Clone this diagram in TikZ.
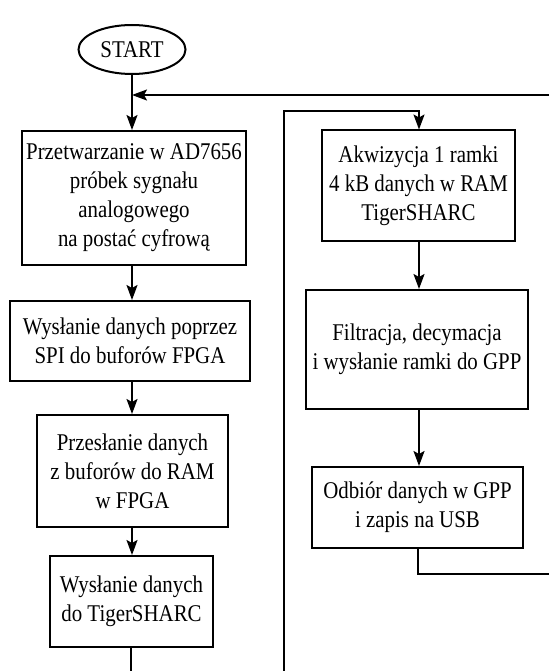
\documentclass[tikz,border=0pt]{standalone}
\usepackage{fontspec}
\setmainfont{Liberation Serif}[FakeStretch=0.87]
\usetikzlibrary{shapes.geometric,arrows.meta}
\begin{document}
\begin{tikzpicture}[x=1pt,y=-1pt,
        blok/.style={draw,line width=2pt,align=center,inner sep=0pt,font=\fontsize{24}{29}\selectfont},
        strz/.style={line width=2pt,-{Stealth[length=15pt,width=11pt,inset=3pt]}},
        linia/.style={line width=2pt}]
    \useasboundingbox (0,0) rectangle (549,671);
    % lewa kolumna
    \node[blok,ellipse,minimum width=107pt,minimum height=49pt] (start) at (132,49.5) {START};
    \node[blok,minimum width=224pt,minimum height=134pt] (prz) at (134,198) {Przetwarzanie w AD7656\\próbek sygnału\\analogowego\\na postać cyfrową};
    \node[blok,minimum width=240pt,minimum height=80pt] (spi) at (130,341) {Wysłanie danych poprzez\\SPI do buforów FPGA};
    \node[blok,minimum width=191pt,minimum height=112pt] (ram) at (132.5,471) {Przesłanie danych\\z buforów do RAM\\w FPGA};
    \node[blok,minimum width=163pt,minimum height=91pt] (tig) at (131.5,601.5) {Wysłanie danych\\do TigerSHARC};
    % prawa kolumna
    \node[blok,minimum width=193pt,minimum height=110pt] (akw) at (418.5,185.5) {Akwizycja 1 ramki\\4 kB danych w RAM\\TigerSHARC};
    \node[blok,minimum width=222pt,minimum height=119pt] (fil) at (417,349.5) {Filtracja, decymacja\\i wysłanie ramki do GPP};
    \node[blok,minimum width=211pt,minimum height=81pt] (gpp) at (417.5,507.5) {Odbiór danych w GPP\\i zapis na USB};
    % punkty pomocnicze
    \coordinate (powR) at (549,95);
    \coordinate (pow) at (132,95);
    \coordinate (dolL) at (131,671);
    \coordinate (petD) at (284,671);
    \coordinate (petG) at (284,111);
    \coordinate (petP) at (419,111);
    \coordinate (wyj) at (418,574);
    \coordinate (wyjR) at (549,574);
    % polaczenia
    \draw[strz] (start.south) -- (prz.north -| start.south);
    \draw[strz] (powR) -- (pow);
    \draw[strz] (prz.south -| start.south) -- (spi.north -| start.south);
    \draw[strz] (spi.south -| start.south) -- (ram.north -| start.south);
    \draw[strz] (ram.south -| start.south) -- (tig.north -| start.south);
    \draw[linia] (tig.south -| dolL) -- (dolL);
    \draw[strz] (petD) -- (petG) -- (petP) -- (akw.north -| petP);
    \draw[strz] (akw.south -| petP) -- (fil.north -| petP);
    \draw[strz] (fil.south -| petP) -- (gpp.north -| petP);
    \draw[linia] (gpp.south -| wyj) -- (wyj) -- (wyjR);
\end{tikzpicture}
\end{document}
